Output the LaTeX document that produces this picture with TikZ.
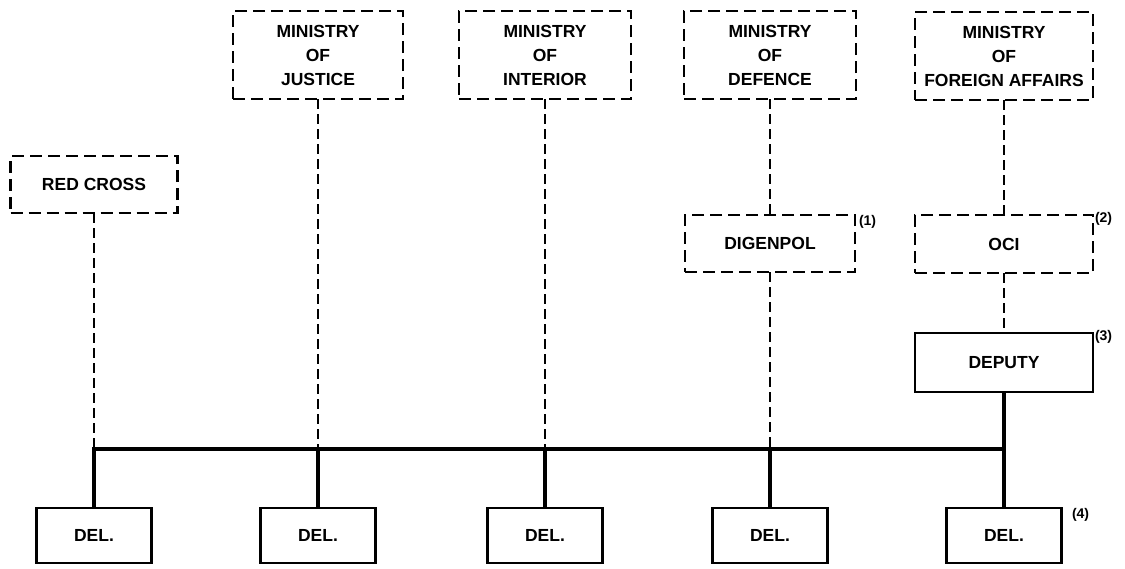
\documentclass[tikz,border=0pt]{standalone}
\usepackage{fontspec}
\setmainfont{Liberation Sans}
\begin{document}
\begin{tikzpicture}[x=1pt,y=-1pt,
  every node/.style={inner sep=0pt, outer sep=0pt, align=center, font=\fontsize{17.5}{24}\bfseries\selectfont},
  dbox/.style={draw, line width=2.4pt, dash pattern=on 12pt off 6pt, rectangle},
  sbox/.style={draw, line width=2.6pt, rectangle},
  dline/.style={line width=2.2pt, dash pattern=on 10pt off 5pt},
  sline/.style={line width=4.2pt},
  note/.style={anchor=west, font=\fontsize{14}{15}\bfseries\selectfont}]
\useasboundingbox (0,0) rectangle (1125,568);
% upper boxes
\node[dbox, minimum width=167pt, minimum height=57pt] (redcross) at (94,184.5) {RED CROSS};
\node[dbox, minimum width=170pt, minimum height=88pt] (justice) at (318,55) {MINISTRY\\OF\\JUSTICE};
\node[dbox, minimum width=172pt, minimum height=88pt] (interior) at (545,55) {MINISTRY\\OF\\INTERIOR};
\node[dbox, minimum width=172pt, minimum height=88pt] (defence) at (770,55) {MINISTRY\\OF\\DEFENCE};
\node[dbox, minimum width=178pt, minimum height=88pt] (foreign) at (1004,56) {MINISTRY\\OF\\FOREIGN AFFAIRS};
\node[dbox, minimum width=170pt, minimum height=57pt] (digenpol) at (770,243.5) {DIGENPOL};
\node[dbox, minimum width=178pt, minimum height=58pt] (oci) at (1004,244) {OCI};
\node[sbox, minimum width=178pt, minimum height=59pt] (deputy) at (1004,362.5) {DEPUTY};
% DEL boxes
\node[sbox, minimum width=115pt, minimum height=55pt] (del1) at (94,535.5) {DEL.};
\node[sbox, minimum width=115pt, minimum height=55pt] (del2) at (318,535.5) {DEL.};
\node[sbox, minimum width=115pt, minimum height=55pt] (del3) at (545,535.5) {DEL.};
\node[sbox, minimum width=115pt, minimum height=55pt] (del4) at (770,535.5) {DEL.};
\node[sbox, minimum width=115pt, minimum height=55pt] (del5) at (1004,535.5) {DEL.};
% bus coordinates
\coordinate (b1) at (94,449);
\coordinate (b2) at (318,449);
\coordinate (b3) at (545,449);
\coordinate (b4) at (770,449);
\coordinate (b5) at (1004,449);
% dashed connectors
\draw[dline] (redcross.south) -- (b1);
\draw[dline] (justice.south) -- (b2);
\draw[dline] (interior.south) -- (b3);
\draw[dline] (defence.south) -- (digenpol.north);
\draw[dline] (digenpol.south) -- (b4);
\draw[dline] (foreign.south) -- (oci.north);
\draw[dline] (oci.south) -- (deputy.north);
% solid connectors
\draw[sline] (deputy.south) -- (b5);
\draw[sline, line cap=rect] (b1) -- (b5);
\draw[sline] (b1) -- (del1.north);
\draw[sline] (b2) -- (del2.north);
\draw[sline] (b3) -- (del3.north);
\draw[sline] (b4) -- (del4.north);
\draw[sline] (b5) -- (del5.north);
% notes
\node[note] (n1) at (859,222) {(1)};
\node[note] (n2) at (1095,219) {(2)};
\node[note] (n3) at (1095,337) {(3)};
\node[note] (n4) at (1072,515) {(4)};
\end{tikzpicture}
\end{document}
